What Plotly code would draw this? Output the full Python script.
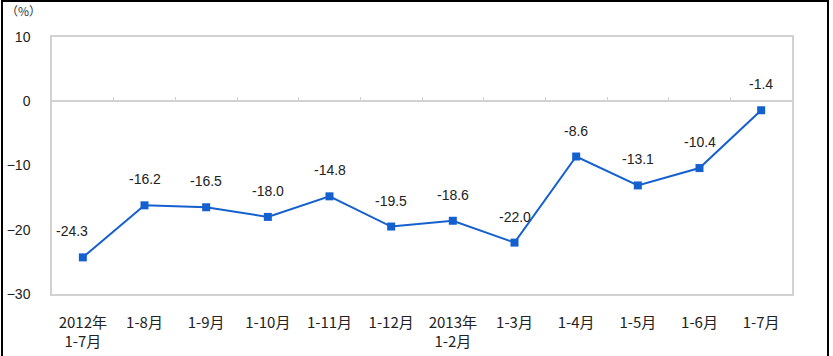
import plotly.graph_objects as go

categories = ["2012年<br>1-7月", "1-8月", "1-9月", "1-10月", "1-11月", "1-12月",
              "2013年<br>1-2月", "1-3月", "1-4月", "1-5月", "1-6月", "1-7月"]
values = [-24.3, -16.2, -16.5, -18.0, -14.8, -19.5, -18.6, -22.0, -8.6, -13.1, -10.4, -1.4]
y_ticks = [10, 0, -10, -20, -30]

W, H = 833, 356
L, R, T, B = 52, 41, 37, 62
pw, ph = W - L - R, H - T - B
blue = "#1560cf"
grey = "#d2d2d2"

idx = list(range(len(categories)))

fig = go.Figure()
fig.add_trace(go.Scatter(
    x=idx, y=values, mode="lines+markers",
    line=dict(color=blue, width=2),
    marker=dict(symbol="square", size=8, color=blue),
    showlegend=False, hoverinfo="skip", cliponaxis=False,
))
# helper trace so the y=0 axis is rendered
fig.add_trace(go.Scatter(x=idx, y=values, xaxis="x2", mode="lines",
                         line=dict(width=0), opacity=0, showlegend=False, hoverinfo="skip"))

for i, v in enumerate(values):
    fig.add_annotation(x=i, y=v, text=f"{v:.1f}", showarrow=False,
                       yshift=26, xshift=(-11 if i == 0 else 0),
                       font=dict(family="Liberation Sans, Arial", size=14, color="#222"))

fig.add_annotation(xref="paper", yref="paper", x=(4 - L) / pw, y=(ph + T - 11) / ph,
                   xanchor="left", yanchor="middle", text="（%）", showarrow=False,
                   font=dict(family="Noto Sans CJK SC", size=12, color="#333"))

# outer frame (left, top, right)
x0p, x1p = (2 - L) / pw, (828 - L) / pw
ytop = (ph + T - 1) / ph
ybot = -(B + 5) / ph
fig.add_shape(type="path", xref="paper", yref="paper",
              path=f"M {x0p} {ybot} L {x0p} {ytop} L {x1p} {ytop} L {x1p} {ybot}",
              line=dict(color="black", width=2))

yr = [-30, 10]
fig.update_layout(
    width=W, height=H, margin=dict(l=L, r=R, t=T, b=B, autoexpand=False),
    paper_bgcolor="white", plot_bgcolor="white",
    xaxis=dict(range=[-0.5, len(categories) - 0.5], tickvals=idx, ticktext=categories,
               showgrid=False, zeroline=False, showline=True, mirror=True, linecolor=grey,
               linewidth=1.5, ticks="", ticklabelstandoff=14, automargin=False,
               tickfont=dict(family="Noto Sans CJK SC", size=15, color="#222")),
    xaxis2=dict(overlaying="x", anchor="free", position=(0 - yr[0]) / (yr[1] - yr[0]),
                range=[-0.5, len(categories) - 0.5], automargin=False,
                tickvals=[i + 0.5 for i in idx[:-1]], ticks="inside", ticklen=4,
                tickcolor=grey, tickwidth=1, showticklabels=False, showgrid=False,
                zeroline=False, showline=True, linecolor=grey, linewidth=1.5),
    yaxis=dict(range=yr, tickvals=y_ticks, showgrid=False, zeroline=False,
               showline=True, mirror=True, linecolor=grey, linewidth=1.5, ticks="",
               ticklabelstandoff=17, automargin=False,
               tickfont=dict(family="Liberation Sans, Arial", size=14, color="#222")),
)

fig.write_html("out.html", config={"displayModeBar": False},
               post_script="document.body.style.margin='0';document.body.style.overflow='hidden';")
